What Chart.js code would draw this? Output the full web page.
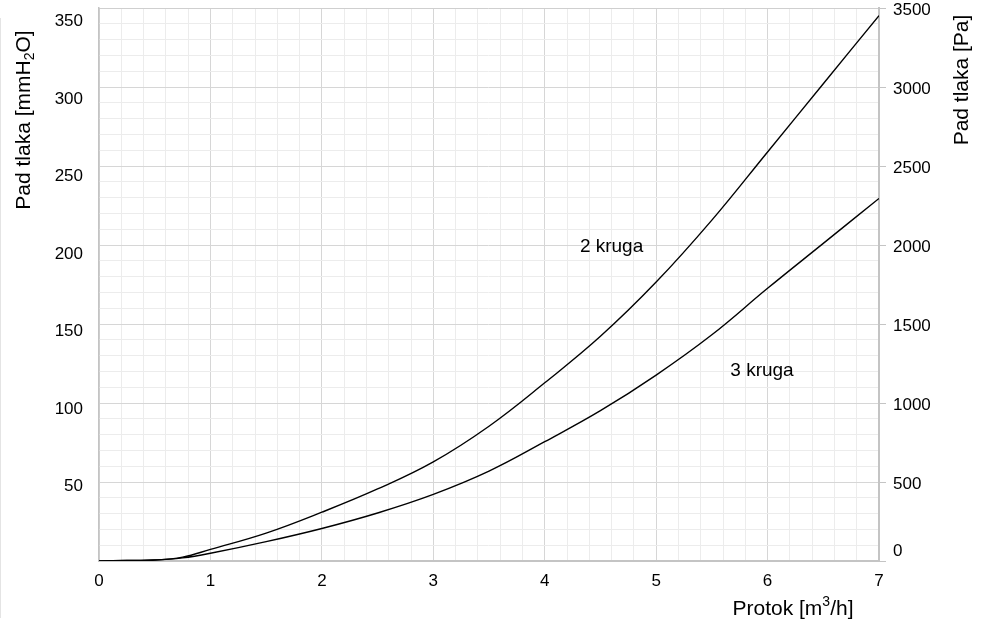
<!DOCTYPE html>
<html>
<head>
<meta charset="utf-8">
<script src="https://cdn.jsdelivr.net/npm/chart.js@4"></script>
<style>
  html, body { margin: 0; padding: 0; background: #fff; }
  #wrap { width: 985px; height: 622px; position: relative; }
</style>
</head>
<body>
<div id="wrap"><canvas id="myChart"></canvas></div>
<script>
// flow [m3/h] and pressure drop [mmH2O]
const flow = [0, 0.25, 0.5, 0.75, 1, 1.5, 2, 2.5, 3, 3.5, 4, 4.5, 5, 5.5, 6, 6.5, 7];
const twoCircuits = [0, 0.4, 0.6, 2.5, 7.5, 18, 31.5, 46.5, 64, 87, 115, 145, 180, 220, 264, 308, 352];
const threeCircuits = [0, 0.4, 0.6, 2, 5, 12.5, 21, 31, 43, 58, 77, 97, 120, 146, 176, 205, 234];

const curveLabels = [
  { text: '2 kruga', x: 4.6, y: 203 },
  { text: '3 kruga', x: 5.95, y: 123 }
];

const paMax = 3500;
const paPerMm = 9.80665;
const mmMax = paMax / paPerMm;

const FONT = '"Liberation Sans", Arial, sans-serif';
const minorGrid = '#ececec';
const majorGrid = '#d6d6d6';
const frame = '#c4c4c4';

function toPoints(ys) {
  return flow.map((x, i) => ({ x: x, y: ys[i] }));
}

// draws a string made of normal / sub / sup parts, centred on (0,0) of the current transform
function drawRich(ctx, parts, size) {
  const small = Math.round(size * 0.65);
  let total = 0;
  parts.forEach(p => {
    ctx.font = (p.s ? small : size) + 'px ' + FONT;
    p.w = ctx.measureText(p.t).width;
    total += p.w;
  });
  let x = -total / 2;
  ctx.textAlign = 'left';
  ctx.textBaseline = 'middle';
  parts.forEach(p => {
    ctx.font = (p.s ? small : size) + 'px ' + FONT;
    let dy = 0;
    if (p.s === 'sub') dy = size * 0.3;
    if (p.s === 'sup') dy = -size * 0.32;
    ctx.fillText(p.t, x, dy);
    x += p.w;
  });
}

function noPad(scale) {
  scale.paddingTop = 0;
  scale.paddingBottom = 0;
  scale.paddingLeft = 0;
  scale.paddingRight = 0;
}

const extras = {
  id: 'extras',
  afterDraw(chart) {
    const ctx = chart.ctx;
    const xs = chart.scales.x, ys = chart.scales.y, y2 = chart.scales.y2;
    ctx.save();
    ctx.fillStyle = '#000';

    // curve names
    ctx.font = '19px ' + FONT;
    ctx.textAlign = 'center';
    ctx.textBaseline = 'middle';
    curveLabels.forEach(l => {
      ctx.fillText(l.text, xs.getPixelForValue(l.x), ys.getPixelForValue(l.y));
    });

    // the right "0" sits a little above the bottom edge
    ctx.font = '17px ' + FONT;
    ctx.textAlign = 'left';
    ctx.fillText('0', y2.left + 14, y2.getPixelForValue(0) - 10);

    // left axis title
    ctx.save();
    ctx.translate(24, 120);
    ctx.rotate(-Math.PI / 2);
    drawRich(ctx, [{ t: 'Pad tlaka [mmH' }, { t: '2', s: 'sub' }, { t: 'O]' }], 21);
    ctx.restore();

    // right axis title
    ctx.save();
    ctx.translate(962, 80);
    ctx.rotate(-Math.PI / 2);
    drawRich(ctx, [{ t: 'Pad tlaka [Pa]' }], 21);
    ctx.restore();

    // x axis title
    ctx.save();
    ctx.translate(793, 609);
    drawRich(ctx, [{ t: 'Protok [m' }, { t: '3', s: 'sup' }, { t: '/h]' }], 21);
    ctx.restore();

    // faint frame line on the far left
    ctx.strokeStyle = '#e4e4e4';
    ctx.lineWidth = 1;
    ctx.beginPath();
    ctx.moveTo(0.5, 18);
    ctx.lineTo(0.5, 618);
    ctx.stroke();
    ctx.restore();
  }
};

const ctx = document.getElementById('myChart').getContext('2d');

new Chart(ctx, {
  type: 'line',
  data: {
    datasets: [
      { label: '2 kruga', data: toPoints(twoCircuits), yAxisID: 'y' },
      { label: '3 kruga', data: toPoints(threeCircuits), yAxisID: 'y' }
    ]
  },
  options: {
    responsive: true,
    maintainAspectRatio: false,
    animation: false,
    devicePixelRatio: 1,
    layout: { padding: { top: 8, left: 0, right: 0, bottom: 0 } },
    elements: {
      line: { borderColor: '#000', borderWidth: 1.4, tension: 0.4, fill: false },
      point: { radius: 0 }
    },
    plugins: {
      legend: { display: false },
      tooltip: { enabled: false },
      title: { display: false }
    },
    scales: {
      x: {
        type: 'linear',
        min: 0,
        max: 7,
        afterBuildTicks(scale) {
          const t = [];
          for (let i = 0; i <= 35; i++) t.push({ value: i / 5 });
          scale.ticks = t;
        },
        afterFit(scale) { scale.height = 61; noPad(scale); },
        ticks: {
          autoSkip: false,
          maxRotation: 0,
          padding: 10,
          color: '#000',
          font: { family: FONT, size: 17 },
          callback: v => (Math.abs(v - Math.round(v)) < 1e-6 ? String(Math.round(v)) : '')
        },
        grid: {
          drawTicks: false,
          color: c => (Math.abs(c.tick.value - Math.round(c.tick.value)) < 1e-6 ? majorGrid : minorGrid),
          lineWidth: 1
        },
        border: { color: frame, width: 2 }
      },
      y: {
        type: 'linear',
        position: 'left',
        min: 0,
        max: mmMax,
        afterBuildTicks(scale) {
          const t = [];
          for (let v = 50; v <= 350; v += 50) t.push({ value: v });
          scale.ticks = t;
        },
        afterFit(scale) { scale.width = 99; noPad(scale); },
        ticks: {
          autoSkip: false,
          padding: 16,
          labelOffset: 3,
          color: '#000',
          font: { family: FONT, size: 17 },
          callback: v => String(v)
        },
        grid: { drawOnChartArea: false, drawTicks: false },
        border: { color: frame, width: 1.5 }
      },
      y2: {
        type: 'linear',
        position: 'right',
        min: 0,
        max: paMax,
        afterBuildTicks(scale) {
          const t = [];
          for (let v = 0; v <= paMax; v += 100) t.push({ value: v });
          scale.ticks = t;
        },
        afterFit(scale) { scale.width = 106; noPad(scale); },
        ticks: {
          autoSkip: false,
          padding: 7,
          labelOffset: 2,
          color: '#000',
          font: { family: FONT, size: 17 },
          callback: v => (v > 0 && v % 500 === 0 ? String(v) : '')
        },
        grid: {
          drawOnChartArea: true,
          drawTicks: true,
          tickLength: 7,
          color: c => {
            const v = c.tick.value;
            if (v === paMax) return '#cfcfcf';
            return v % 500 === 0 ? majorGrid : minorGrid;
          },
          tickColor: c => (c.tick.value % 500 === 0 ? frame : 'rgba(0,0,0,0)'),
          lineWidth: 1
        },
        border: { color: frame, width: 2 }
      }
    }
  },
  plugins: [extras]
});
</script>
</body>
</html>
